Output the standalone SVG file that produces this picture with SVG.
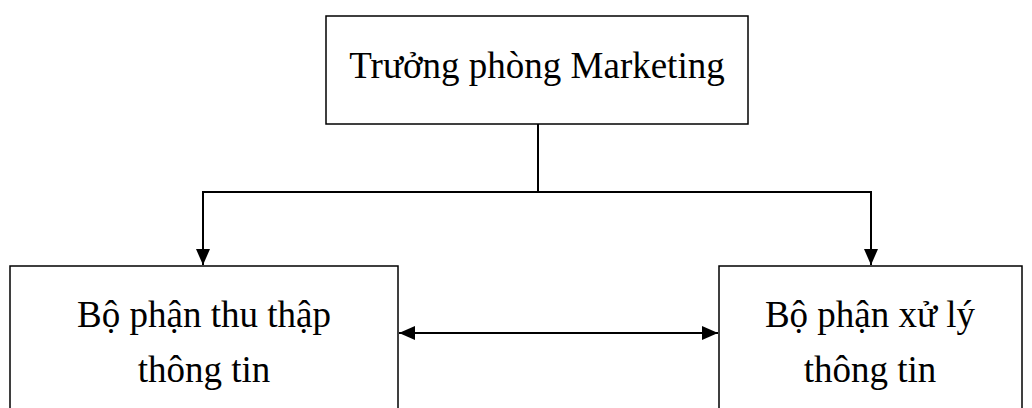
<svg xmlns="http://www.w3.org/2000/svg" width="1032" height="408" viewBox="0 0 1032 408">
<style>
.box{fill:#fff;stroke:#000;stroke-width:1.5}
.t{font-family:"Liberation Serif","Times New Roman",serif;font-size:37px;fill:#000;text-anchor:middle}
.c{fill:none;stroke:#000;stroke-width:2}
</style>
<defs>
<marker id="ah" viewBox="0 0 16 14" refX="16" refY="7" markerWidth="16" markerHeight="14" markerUnits="userSpaceOnUse" orient="auto-start-reverse">
<path d="M0,0 L16,7 L0,14 Z" fill="#000"/>
</marker>
</defs>
<rect width="1032" height="408" fill="#fff"/>
<g id="connectors">
<polyline class="c" points="538,124 538,192"/>
<polyline class="c" points="203,265 203,192 871,192 871,265" marker-start="url(#ah)" marker-end="url(#ah)"/>
<line class="c" x1="399" y1="333" x2="718" y2="333" marker-start="url(#ah)" marker-end="url(#ah)"/>
</g>
<g id="node-top">
<rect class="box" x="326" y="16" width="422" height="108"/>
<text class="t" x="537" y="78">Trưởng phòng Marketing</text>
</g>
<g id="node-left">
<rect class="box" x="10" y="266" width="388" height="160"/>
<text class="t" x="204" y="327">Bộ phận thu thập</text>
<text class="t" x="204" y="382">thông tin</text>
</g>
<g id="node-right">
<rect class="box" x="719" y="266" width="303" height="160"/>
<text class="t" x="870" y="327">Bộ phận xử lý</text>
<text class="t" x="870" y="382">thông tin</text>
</g>
</svg>
